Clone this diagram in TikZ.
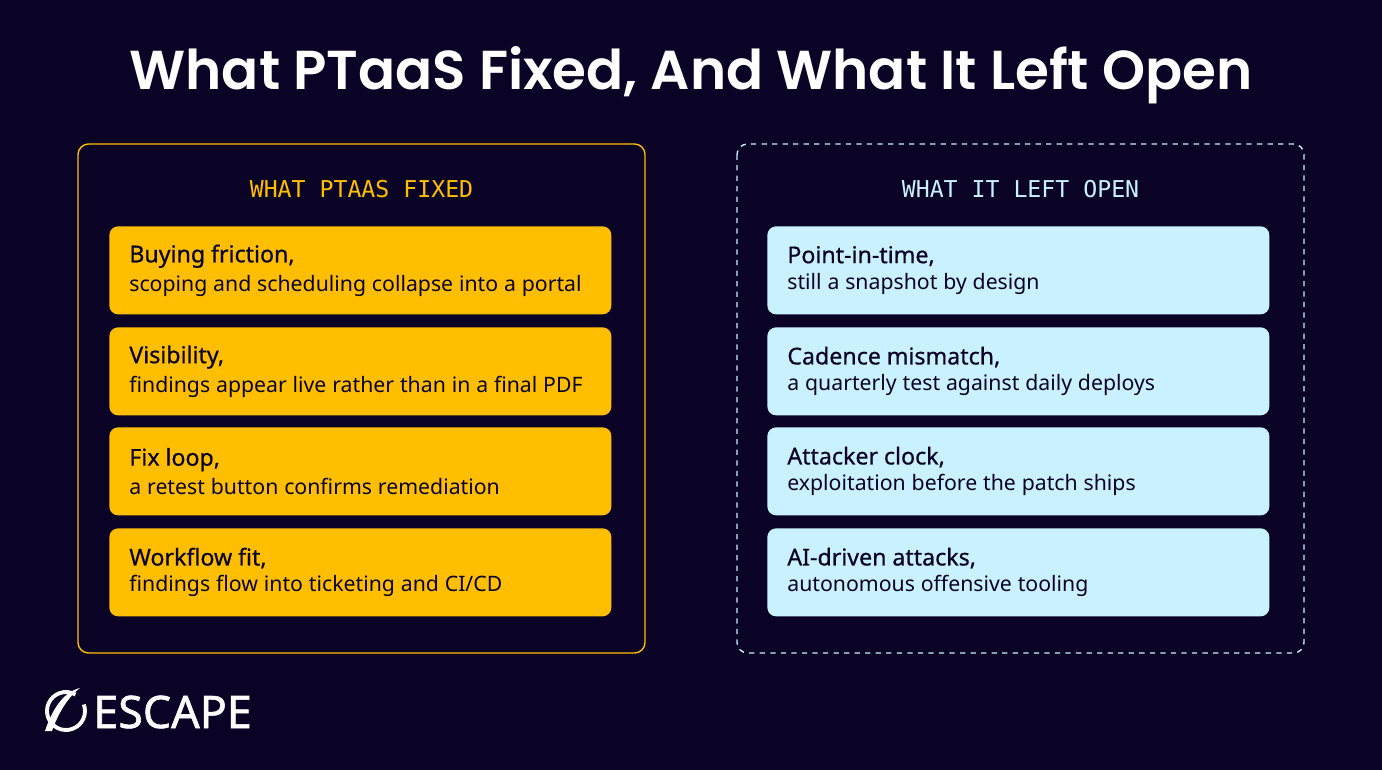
\documentclass[tikz,border=0pt]{standalone}
\usepackage{fontspec}
\setmainfont{Noto Sans}
\newfontfamily\titlefont{Poppins}[UprightFont=* SemiBold]
\newfontfamily\headfont{DejaVu Sans Mono}
\newfontfamily\logofont{Noto Sans}[FakeBold=1.2]
\newfontfamily\leadfont{Noto Sans}[FakeBold=0.6]
\usetikzlibrary{positioning}
\definecolor{bgnavy}{HTML}{0A0326}
\definecolor{ptyellow}{HTML}{FFBE00}
\definecolor{ptblue}{HTML}{C9F1FF}

\tikzset{
	panel/.style={rounded corners=6pt,line width=0.8pt},
	item/.style={rounded corners=5pt,minimum width=502*0.02cm,minimum height=88*0.02cm,
		text width=462*0.02cm,inner xsep=20*0.02cm,align=left,text=bgnavy,anchor=north west},
	head/.style={font=\headfont\fontsize{13.2}{15}\selectfont},
}
\newcommand{\itemtext}[2]{{\leadfont\fontsize{13.2}{16}\selectfont #1}\\[3pt]{\fontsize{12.1}{16}\selectfont #2}}

\begin{document}
\begin{tikzpicture}[x=0.02cm,y=-0.02cm]
	\fill[bgnavy] (0,0) rectangle (1382,770);
	\useasboundingbox (0,0) rectangle (1382,770);

	\node[text=white,font=\titlefont\fontsize{31.2}{36}\selectfont] (title) at (691,75) {What PTaaS Fixed, And What It Left Open};

	% panels
	\draw[panel,ptyellow] (78,144) rectangle (645,653);
	\draw[panel,ptblue,dashed] (737,144) rectangle (1304,653);
	\node[head,text=ptyellow] (lhead) at (361.5,189) {WHAT PTAAS FIXED};
	\node[head,text=ptblue] (rhead) at (1020.5,189) {WHAT IT LEFT OPEN};

	% left items
	\node[item,fill=ptyellow] (l1) at (109,226) {\itemtext{Buying friction,}{scoping and scheduling collapse into a portal}};
	\node[item,fill=ptyellow] (l2) at (109,327) {\itemtext{Visibility,}{findings appear live rather than in a final PDF}};
	\node[item,fill=ptyellow] (l3) at (109,427) {\itemtext{Fix loop,}{a retest button confirms remediation}};
	\node[item,fill=ptyellow] (l4) at (109,528) {\itemtext{Workflow fit,}{findings flow into ticketing and CI/CD}};

	% right items
	\node[item,fill=ptblue] (r1) at (767,226) {\itemtext{Point-in-time,}{still a snapshot by design}};
	\node[item,fill=ptblue] (r2) at (767,327) {\itemtext{Cadence mismatch,}{a quarterly test against daily deploys}};
	\node[item,fill=ptblue] (r3) at (767,427) {\itemtext{Attacker clock,}{exploitation before the patch ships}};
	\node[item,fill=ptblue] (r4) at (767,528) {\itemtext{AI-driven attacks,}{autonomous offensive tooling}};

	% logo
	\draw[white,line width=2.2pt] ([shift={(-20:19)}]66,711) arc (-20:300:19);
	\fill[white] (45,731) .. controls (52,710) and (63,692) .. (80,688) .. controls (67,698) and (58,714) .. (52,731) -- cycle;
	\node[text=white,font=\logofont\fontsize{25.5}{30}\selectfont,anchor=west,inner sep=0] (logo) at (93,712) {ESCAPE};
\end{tikzpicture}
\end{document}
